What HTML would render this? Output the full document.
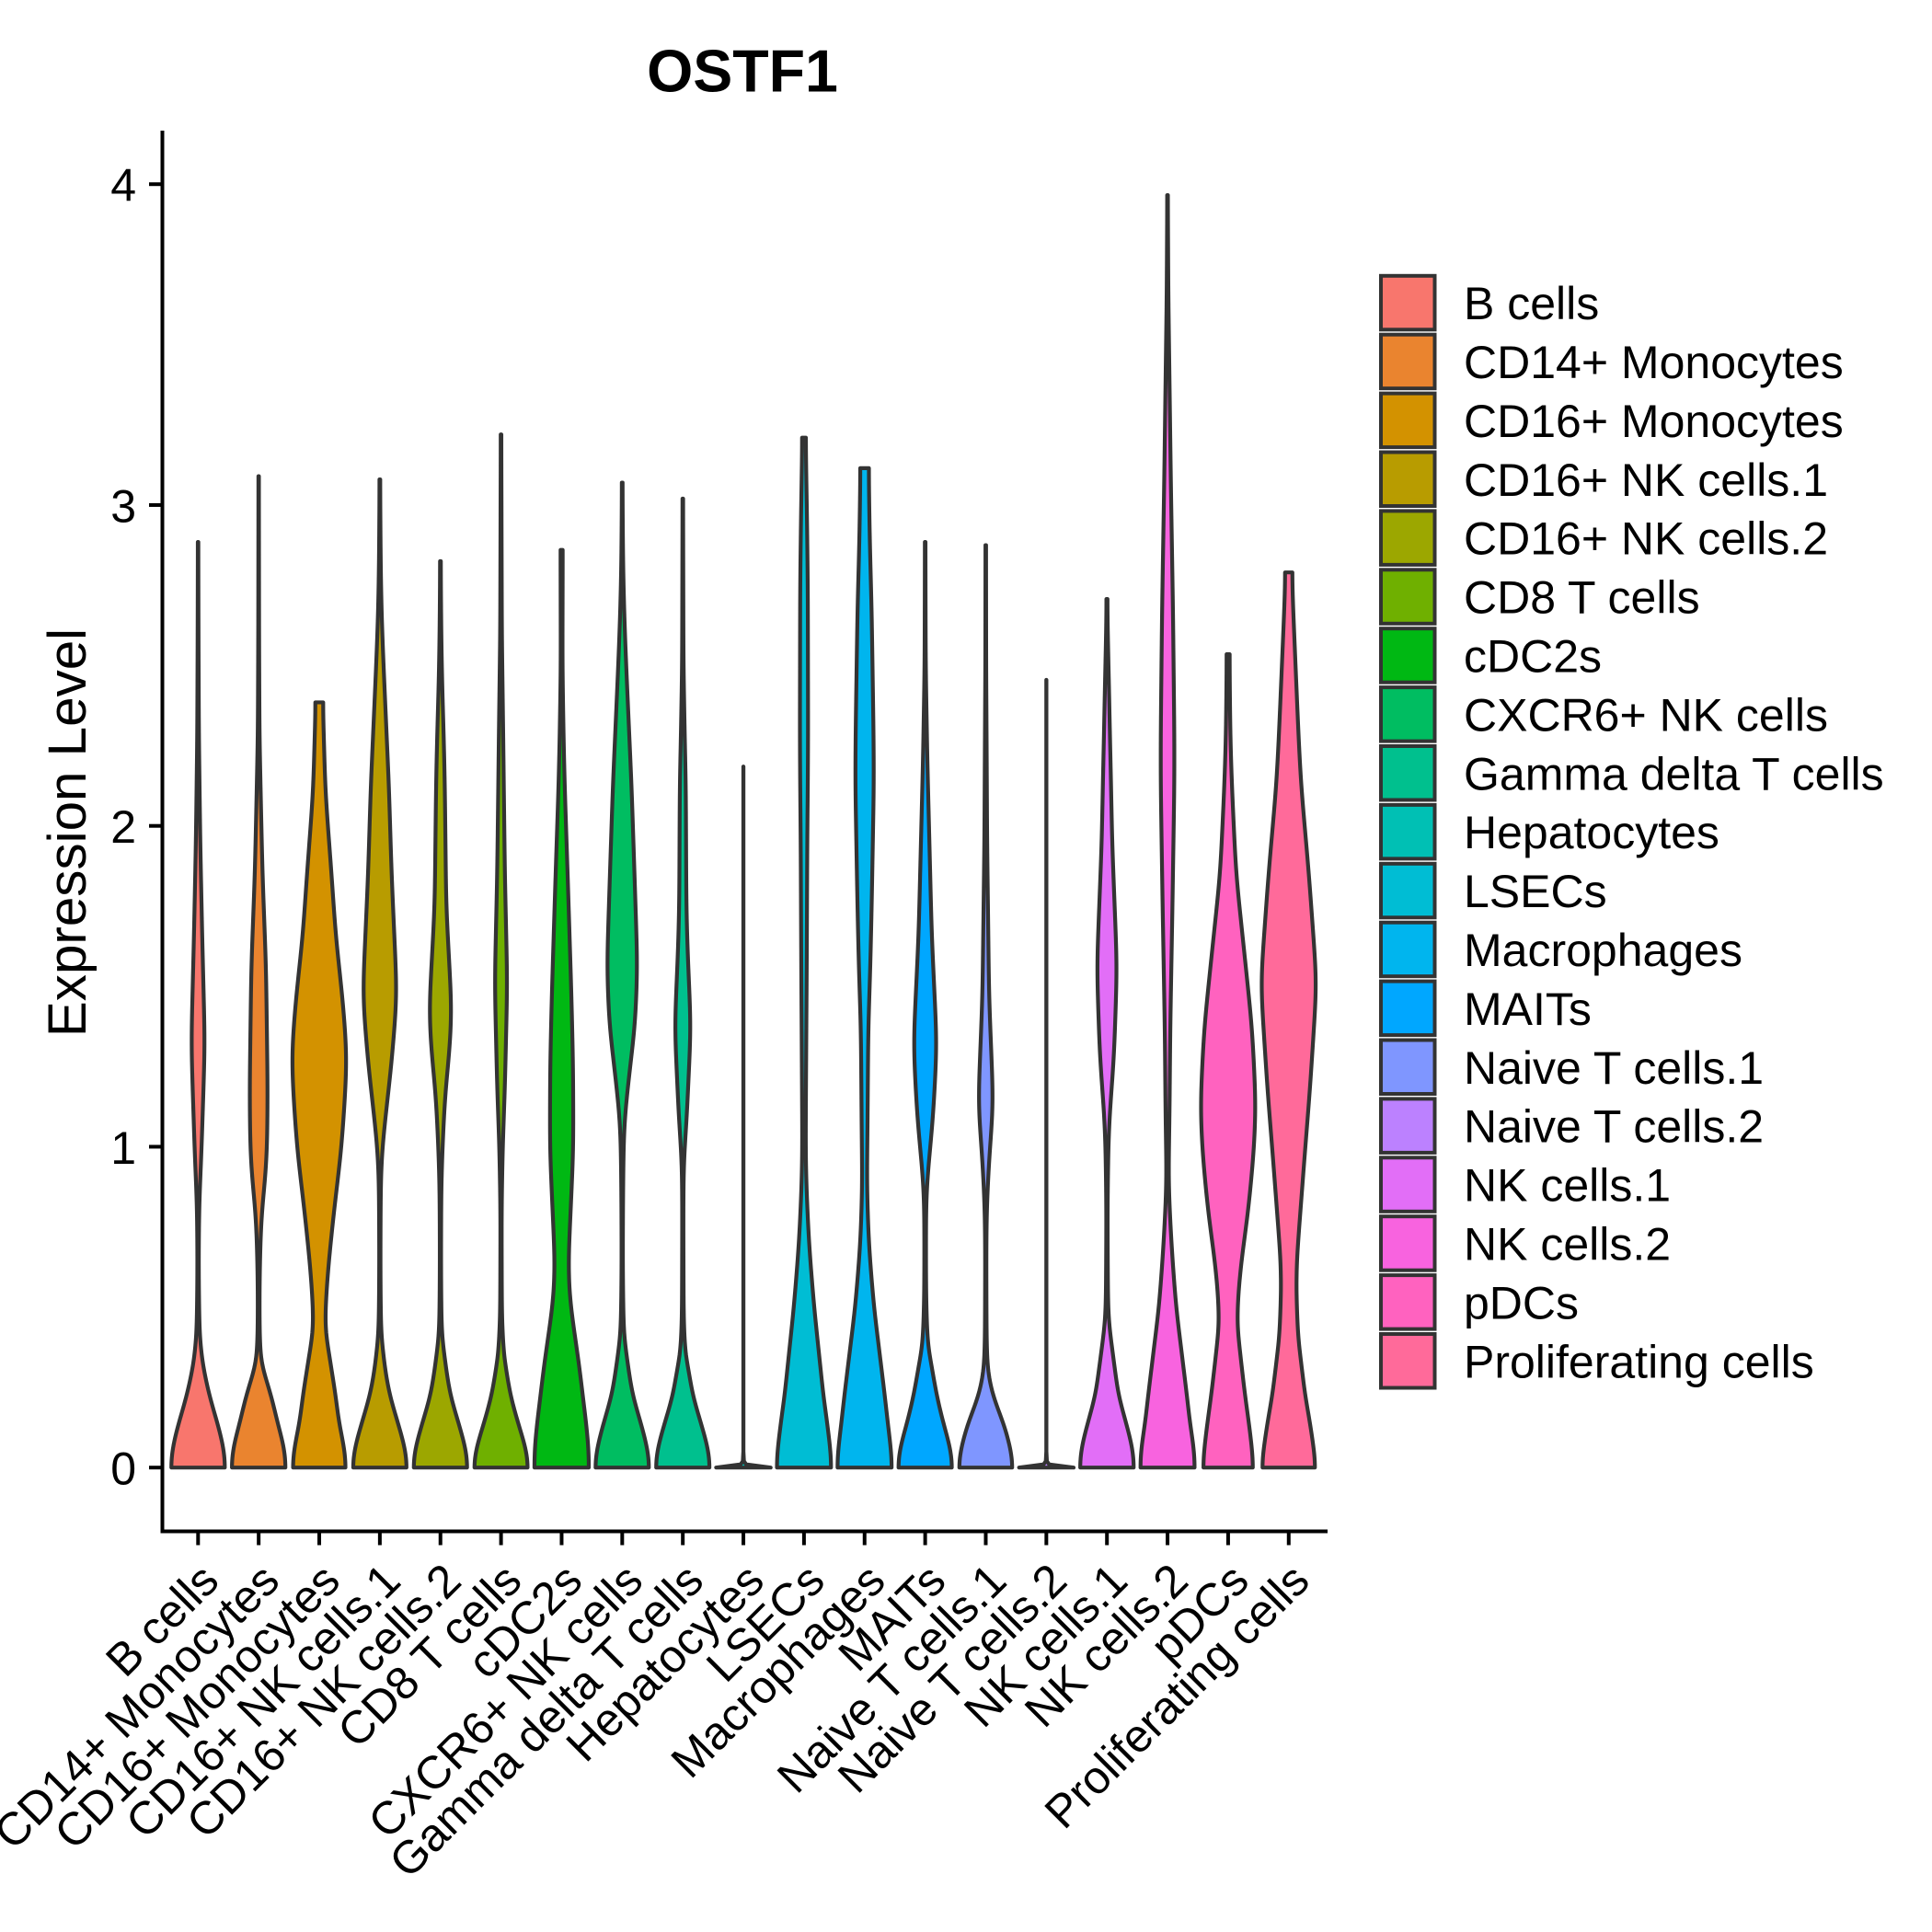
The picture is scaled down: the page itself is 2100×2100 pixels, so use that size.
<!DOCTYPE html>
<html lang="en">
<head>
<meta charset="utf-8">
<title>OSTF1 violin plot</title>
<style>
html,body{margin:0;padding:0;background:#fff;}
svg{display:block;}
text{font-family:"Liberation Sans",Arial,sans-serif;fill:#000;}
</style>
</head>
<body>
<svg id="chart" xmlns="http://www.w3.org/2000/svg" width="2100" height="2100" viewBox="0 0 2100 2100">
  <rect x="0" y="0" width="2100" height="2100" fill="#ffffff"/>
  <text x="807" y="99.5" font-size="64.5" font-weight="bold" text-anchor="middle">OSTF1</text>
  <text transform="translate(93 905) rotate(-90)" font-size="58.33" text-anchor="middle">Expression Level</text>
  <g id="violins"></g>
  <line x1="176.5" y1="142" x2="176.5" y2="1666.5" stroke="#000" stroke-width="4"/>
  <line x1="174.5" y1="1664.5" x2="1443" y2="1664.5" stroke="#000" stroke-width="4"/>
  <g id="y-axis"></g>
  <g id="x-axis"></g>
  <g id="legend"></g>
</svg>
<script>
const categories = ["B cells","CD14+ Monocytes","CD16+ Monocytes","CD16+ NK cells.1","CD16+ NK cells.2","CD8 T cells","cDC2s","CXCR6+ NK cells","Gamma delta T cells","Hepatocytes","LSECs","Macrophages","MAITs","Naive T cells.1","Naive T cells.2","NK cells.1","NK cells.2","pDCs","Proliferating cells"];
const colors = ["#F8766D","#EA842F","#D39200","#B89C00","#9CA700","#6FB000","#00B813","#00BD61","#00C08E","#00C0B4","#00BDD4","#00B5EE","#00A7FF","#7F96FF","#BC81FF","#E26EF7","#F863DF","#FF62BF","#FF6A9A"];
const yTicks = [0,1,2,3,4];

/* each series: [expression level, relative density] */
const bCells = [[0,1],[.03,.99],[.07,.92],[.13,.74],[.225,.41],[.32,.17],[.415,.05],[.63,.02],[.83,.04],[.95,.11],[1.08,.16],[1.32,.25],[1.66,.15],[1.95,.08],[2.28,.03],[2.6,.015],[2.885,.008]];
const cd14Mono = [[0,1],[.03,.99],[.07,.92],[.14,.69],[.225,.46],[.32,.1],[.37,.05],[.46,.03],[.61,.035],[.8,.1],[.89,.24],[.99,.31],[1.18,.33],[1.56,.27],[1.85,.14],[2,.1],[2.28,.03],[2.6,.015],[3.09,.008]];
const cd16Mono = [[0,.98],[.03,.97],[.07,.9],[.14,.72],[.225,.6],[.37,.33],[.445,.19],[.61,.31],[.8,.54],[.99,.81],[1.15,.94],[1.28,1.02],[1.45,.87],[1.66,.6],[1.85,.45],[2.04,.28],[2.13,.21],[2.28,.17],[2.385,.12]];
const cd16Nk1 = [[0,1],[.03,.99],[.07,.9],[.14,.66],[.225,.36],[.3,.2],[.42,.04],[.63,.02],[.85,.03],[.96,.05],[1.05,.15],[1.26,.43],[1.47,.63],[1.85,.43],[2.13,.33],[2.28,.25],[2.53,.12],[2.67,.06],[2.82,.03],[3.08,.01]];
const cd16Nk2 = [[0,1],[.03,.99],[.07,.9],[.14,.66],[.225,.36],[.3,.22],[.42,.04],[.63,.02],[.88,.03],[1.01,.08],[1.18,.18],[1.28,.32],[1.42,.42],[1.75,.21],[2.13,.16],[2.28,.12],[2.45,.06],[2.6,.03],[2.825,.01]];
const cd8T = [[0,1],[.03,.99],[.07,.88],[.14,.62],[.225,.34],[.3,.2],[.35,.1],[.47,.03],[.8,.02],[1,.06],[1.18,.14],[1.51,.23],[1.85,.14],[2.13,.1],[2.28,.08],[2.6,.03],[3.22,.01]];
const cdc2s = [[0,1],[.03,1],[.07,.98],[.13,.91],[.32,.64],[.51,.32],[.61,.23],[.8,.33],[.99,.43],[1.25,.42],[1.47,.36],[1.85,.22],[2.13,.11],[2.28,.07],[2.5,.03],[2.86,.04]];
const cxcr6Nk = [[0,1],[.03,.99],[.07,.9],[.14,.68],[.225,.38],[.3,.24],[.42,.05],[.63,.02],[.85,.03],[1,.05],[1.08,.07],[1.28,.33],[1.37,.47],[1.56,.56],[1.85,.45],[2.13,.34],[2.28,.26],[2.53,.13],[2.67,.07],[2.82,.03],[3.07,.01]];
const gammaDelta = [[0,1],[.03,.99],[.07,.9],[.14,.66],[.225,.36],[.3,.22],[.36,.08],[.47,.03],[.8,.02],[.96,.03],[1.09,.15],[1.18,.19],[1.37,.3],[1.62,.17],[1.75,.13],[2.13,.11],[2.28,.07],[2.5,.025],[3.02,.01]];
const hepatocytes = [[0,1],[.01,.1],[.02,.02],[.05,.002],[2.185,.002]];
const lsecs = [[0,1],[.03,1],[.07,.95],[.14,.85],[.225,.71],[.51,.36],[.7,.18],[.89,.08],[.99,.06],[1.29,.08],[1.56,.1],[1.95,.12],[2.13,.14],[2.28,.15],[2.745,.14],[2.96,.11],[3.11,.08],[3.21,.06]];
const macrophages = [[0,1],[.03,1],[.07,.95],[.14,.85],[.225,.74],[.51,.33],[.7,.15],[.89,.08],[.99,.1],[1.37,.135],[1.56,.21],[1.75,.26],[2.13,.34],[2.28,.33],[2.67,.26],[2.89,.19],[3.115,.15]];
const maits = [[0,1],[.03,.99],[.07,.9],[.14,.66],[.225,.42],[.3,.27],[.39,.08],[.55,.03],[.8,.03],[.88,.05],[1.08,.28],[1.2,.36],[1.32,.43],[1.66,.24],[2,.14],[2.2,.08],[2.5,.02],[2.885,.01]];
const naiveT1 = [[0,1],[.03,.98],[.07,.88],[.13,.69],[.225,.25],[.3,.07],[.4,.03],[.65,.02],[.8,.03],[.96,.12],[1.13,.28],[1.47,.12],[1.75,.08],[1.95,.05],[2.28,.03],[2.5,.015],[2.875,.01]];
const naiveT2 = [[0,1],[.01,.1],[.02,.02],[.05,.002],[2.455,.002]];
const nkCells1 = [[0,1],[.03,.99],[.07,.92],[.14,.7],[.225,.42],[.3,.3],[.47,.04],[.8,.02],[1,.05],[1.08,.08],[1.28,.26],[1.56,.37],[1.95,.19],[2.13,.15],[2.28,.11],[2.45,.07],[2.6,.03],[2.707,.01]];
const nkCells2 = [[0,1],[.03,1],[.07,.95],[.14,.82],[.225,.71],[.51,.3],[.7,.14],[.89,.03],[1.08,.07],[1.37,.1],[1.75,.18],[2.13,.25],[2.28,.25],[2.67,.2],[3.08,.12],[3.4,.07],[3.65,.03],[3.966,.01]];
const pDCs = [[0,.92],[.03,.91],[.07,.86],[.14,.76],[.225,.62],[.32,.49],[.46,.31],[.61,.43],[.8,.74],[.99,.95],[1.13,1.02],[1.37,.88],[1.6,.6],[1.85,.29],[2.13,.135],[2.28,.08],[2.535,.05]];
const proliferating = [[0,.98],[.03,.97],[.07,.9],[.14,.78],[.225,.6],[.416,.33],[.61,.26],[.8,.43],[.99,.6],[1.18,.78],[1.51,1.03],[1.85,.74],[2.13,.45],[2.28,.36],[2.6,.2],[2.79,.11]];

const seriesProfiles = [bCells,cd14Mono,cd16Mono,cd16Nk1,cd16Nk2,cd8T,cdc2s,cxcr6Nk,gammaDelta,hepatocytes,lsecs,macrophages,maits,naiveT1,naiveT2,nkCells1,nkCells2,pDCs,proliferating];

const NS = 'http://www.w3.org/2000/svg';
function xScale(i){ return 215.3 + 65.86 * i; }
function yScale(v){ return 1595.2 - 348.75 * v; }
function widthScale(d){ return 29.64 * d; }

/* piecewise-linear density lookup */
function densityAt(p, v){
  if (v <= p[0][0]) return p[0][1];
  for (let i = 1; i < p.length; i++){
    if (v <= p[i][0]){
      const t = (v - p[i-1][0]) / (p[i][0] - p[i-1][0]);
      return p[i-1][1] + t * (p[i][1] - p[i-1][1]);
    }
  }
  return p[p.length-1][1];
}

/* gaussian smoothing of the profile with mirrored ends, like a KDE outline */
function smoothProfile(p){
  const lo = p[0][0], hi = p[p.length-1][0];
  if (p[1][1] < 0.5) { return p.slice(); }
  const out = [];
  const n = Math.max(8, Math.ceil((hi - lo) / 0.01));
  for (let k = 0; k <= n; k++){
    const v = lo + (hi - lo) * k / n;
    const sigma = v < 0.35 ? 0.035 : (v < 0.6 ? 0.035 + (v - 0.35) * 0.12 : 0.065);
    let sum = 0, wt = 0;
    for (let j = -12; j <= 12; j++){
      let u = v + j * sigma / 4;
      if (u < lo) u = 2 * lo - u;
      if (u > hi) u = 2 * hi - u;
      const w = Math.exp(-0.5 * j * j / 16);
      sum += w * densityAt(p, u);
      wt += w;
    }
    out.push([v, sum / wt]);
  }
  return out;
}

const violins = document.getElementById('violins');
seriesProfiles.forEach(function(profile, i){
  const samples = smoothProfile(profile);
  const cx = xScale(i);
  const left = samples.map(function(q){ return (cx - widthScale(q[1])).toFixed(2) + ' ' + yScale(q[0]).toFixed(2); });
  const right = samples.slice().reverse().map(function(q){ return (cx + widthScale(q[1])).toFixed(2) + ' ' + yScale(q[0]).toFixed(2); });
  const el = document.createElementNS(NS, 'path');
  el.setAttribute('d', 'M' + left.concat(right).join('L') + 'Z');
  el.setAttribute('fill', colors[i]);
  el.setAttribute('stroke', '#333333');
  el.setAttribute('stroke-width', '4.2');
  el.setAttribute('stroke-linejoin', 'round');
  
  
  violins.appendChild(el);
});

const yAxis = document.getElementById('y-axis');
yTicks.forEach(function(v){
  const tick = document.createElementNS(NS, 'line');
  tick.setAttribute('x1', 162);
  tick.setAttribute('x2', 176.5);
  tick.setAttribute('y1', yScale(v));
  tick.setAttribute('y2', yScale(v));
  tick.setAttribute('stroke', '#000');
  tick.setAttribute('stroke-width', '4');
  
  
  yAxis.appendChild(tick);
  const label = document.createElementNS(NS, 'text');
  label.setAttribute('x', 148);
  label.setAttribute('y', yScale(v) + 18.5);
  label.setAttribute('font-size', '50');
  label.setAttribute('text-anchor', 'end');
  label.textContent = String(v);
  
  
  yAxis.appendChild(label);
});

const xAxis = document.getElementById('x-axis');
categories.forEach(function(cat, i){
  const slug = cat.toLowerCase().replace(/[^a-z0-9]+/g, '-');
  const tick = document.createElementNS(NS, 'line');
  tick.setAttribute('x1', xScale(i));
  tick.setAttribute('x2', xScale(i));
  tick.setAttribute('y1', 1664.5);
  tick.setAttribute('y2', 1679.5);
  tick.setAttribute('stroke', '#000');
  tick.setAttribute('stroke-width', '4');
  
  
  xAxis.appendChild(tick);
  const label = document.createElementNS(NS, 'text');
  label.setAttribute('transform', 'translate(' + (xScale(i) + 25) + ' 1721) rotate(-45)');
  label.setAttribute('font-size', '50');
  label.setAttribute('text-anchor', 'end');
  label.textContent = cat;
  
  
  xAxis.appendChild(label);
});

const legend = document.getElementById('legend');
categories.forEach(function(cat, i){
  const slug = cat.toLowerCase().replace(/[^a-z0-9]+/g, '-');
  const top = 299.8 + 63.9 * i;
  const key = document.createElementNS(NS, 'rect');
  key.setAttribute('x', 1501);
  key.setAttribute('y', top);
  key.setAttribute('width', 58.5);
  key.setAttribute('height', 58.5);
  key.setAttribute('fill', colors[i]);
  key.setAttribute('stroke', '#333333');
  key.setAttribute('stroke-width', '4');
  
  
  legend.appendChild(key);
  const label = document.createElementNS(NS, 'text');
  label.setAttribute('x', 1591);
  label.setAttribute('y', top + 47.3);
  label.setAttribute('font-size', '50');
  label.textContent = cat;
  
  
  legend.appendChild(label);
});
</script>
</body>
</html>
